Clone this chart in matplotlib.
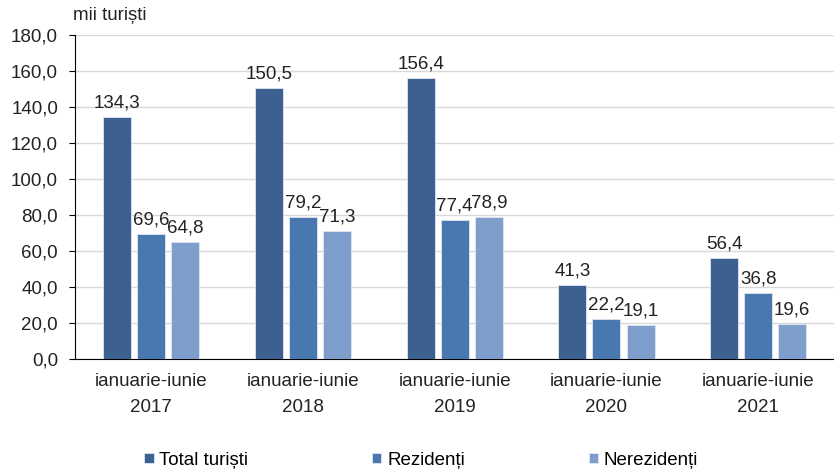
import matplotlib.pyplot as plt
import numpy as np

plt.rcParams["font.family"] = ["Liberation Sans", "DejaVu Sans"]

categories = ["ianuarie-iunie\n2017", "ianuarie-iunie\n2018", "ianuarie-iunie\n2019",
              "ianuarie-iunie\n2020", "ianuarie-iunie\n2021"]
total = [134.3, 150.5, 156.4, 41.3, 56.4]
rezidenti = [69.6, 79.2, 77.4, 22.2, 36.8]
nerezidenti = [64.8, 71.3, 78.9, 19.1, 19.6]

series = [("Total turiști", total, "#3c6090"),
          ("Rezidenți", rezidenti, "#4977b0"),
          ("Nerezidenți", nerezidenti, "#7e9ecb")]

fs = 13.5
fig = plt.figure(figsize=(8.34, 4.75), dpi=100)
ax = fig.add_axes([0.0905, 0.244, 0.9095, 0.682])

x = np.arange(len(categories))
step = 0.225
width = 0.185
for i, (name, vals, color) in enumerate(series):
    pos = x + (i - 1) * step
    bars = ax.bar(pos, vals, width, color=color, label=name, zorder=3,
                  edgecolor="#dfe6f0", linewidth=0.6)
    for b, v in zip(bars, vals):
        ax.annotate(f"{v:.1f}".replace(".", ","), (b.get_x() + b.get_width() / 2, v),
                    xytext=(0, 4), textcoords="offset points", ha="center", va="bottom",
                    fontsize=fs, color="#222222")

ax.set_xlim(-0.5, len(categories) - 0.5)
ax.set_ylim(0, 180)
ax.set_yticks(np.arange(0, 181, 20))
ax.set_yticklabels([f"{v:.1f}".replace(".", ",") for v in np.arange(0, 181, 20)])
ax.set_xticks(x)
ax.set_xticklabels(categories, linespacing=1.7)
ax.tick_params(axis="x", length=0, pad=10, labelsize=fs, colors="#222222")
ax.tick_params(axis="y", length=4.5, direction="out", pad=8, labelsize=fs, colors="#222222")
ax.tick_params(axis="y", color="black")
ax.grid(axis="y", color="#d9d9d9", linewidth=1, zorder=0)
for s in ["top", "right"]:
    ax.spines[s].set_visible(False)
ax.spines["left"].set_color("black")
ax.spines["bottom"].set_color("black")

ax.text(0.087, 0.985, "mii turiști", transform=fig.transFigure, fontsize=fs,
        color="#222222", ha="left", va="top")

fig.legend(loc="lower center", bbox_to_anchor=(0.505, -0.022), ncol=3, frameon=False,
           fontsize=fs, handlelength=0.5, handleheight=0.5, handletextpad=0.3,
           columnspacing=6.6)

fig.savefig("out.png", dpi=100)
